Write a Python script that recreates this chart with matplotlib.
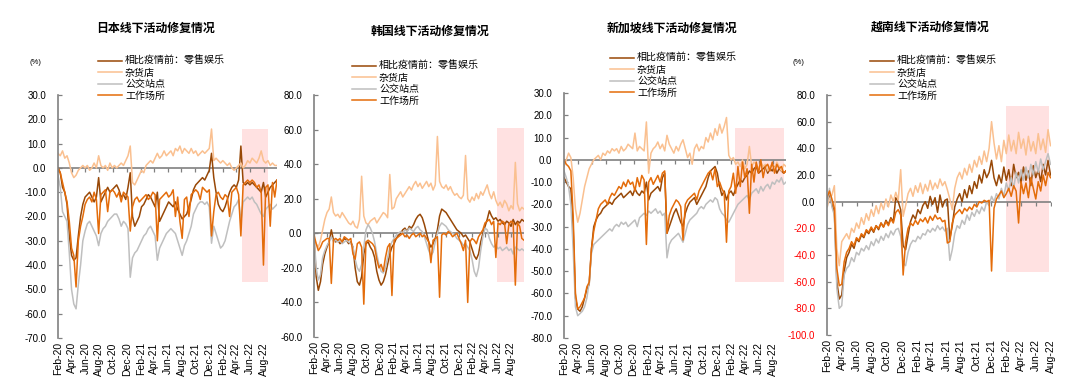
import numpy as np
import pandas as pd
import matplotlib
matplotlib.use('Agg')
import matplotlib.pyplot as plt
import matplotlib.dates as mdates
from matplotlib.patches import Rectangle

plt.rcParams['font.family'] = ['Liberation Sans', 'Noto Sans CJK SC']

# legend labels and colours (order: retail, grocery, transit, workplace)
labels = ['相比疫情前：零售娱乐', '杂货店', '公交站点', '工作场所']
colors = ['#984807', '#FAC090', '#BFBFBF', '#E46C0A']

# values, one point every 10 days from 2020-02-15
# ---- Japan ----
jp_retail = [0, -2, -8, -10, -15, -28, -36, -38, -37, -28,
             -20, -15, -12, -11, -10, -12, -14, -12, -4, -14,
             -12, -10, -8, -10, -9, -8, -7, -9, -12, -11,
             -13, -8, -2, -20, -24, -22, -20, -16, -15, -13,
             -11, -12, -14, -16, -10, -22, -20, -18, -16, -14,
             -15, -16, -14, -17, -19, -21, -20, -19, -16, -13,
             -9, -7, -6, -5, -4, -5, -3, -1, 6, -4,
             -10, -15, -17, -18, -16, -13, -10, -8, -7, -8,
             -5, 9, -6, -7, -6, -7, -6, -7, -8, -9,
             -10, -6, -12, -10, -8, -7, -6, -5]
jp_grocery = [6, 5, 7, 4, 5, 2, -2, -4, -3, -1,
              0, 1, 0, 1, -1, 0, 2, 0, 5, 1,
              0, 1, -1, 2, 0, 1, 0, 1, 2, 1,
              3, 5, 9, -6, -7, -5, -3, -1, -2, 1,
              2, 3, 2, 4, 6, 4, 5, 7, 5, 6,
              7, 5, 8, 7, 9, 6, 8, 7, 6, 8,
              6, 7, 5, 6, 7, 6, 7, 8, 16, 3,
              4, 3, 2, 3, 2, 1, 2, 0, -1, 0,
              1, 2, 0, 1, 3, 2, 4, 3, 2, 4,
              7, 3, 2, 3, 1, 2, 1, 1]
jp_transit = [-3, -8, -18, -20, -22, -35, -50, -56, -58, -48,
              -40, -30, -26, -23, -22, -24, -26, -28, -32, -27,
              -25, -24, -22, -21, -20, -19, -19, -21, -24, -22,
              -23, -25, -45, -37, -35, -34, -32, -30, -28, -27,
              -25, -24, -26, -28, -38, -33, -31, -29, -27, -26,
              -25, -26, -27, -30, -33, -36, -32, -30, -27, -24,
              -19, -17, -15, -14, -14, -15, -14, -16, -31, -24,
              -27, -30, -33, -32, -30, -26, -22, -19, -16, -15,
              -13, -22, -14, -13, -12, -13, -12, -14, -15, -17,
              -19, -20, -17, -16, -15, -17, -16, -15]
jp_work = [0, -2, -6, -10, -14, -22, -33, -36, -49, -30,
           -24, -20, -15, -13, -12, -14, -10, -13, -27, -11,
           -10, -9, -18, -10, -9, -10, -12, -10, -14, -10,
           -11, -12, -26, -16, -13, -12, -14, -13, -12, -11,
           -13, -12, -10, -11, -30, -13, -12, -11, -10, -12,
           -11, -9, -20, -12, -22, -29, -13, -12, -20, -11,
           -10, -9, -10, -13, -8, -9, -10, -9, -28, -18,
           -11, -10, -12, -13, -11, -12, -20, -10, -9, -8,
           -11, -28, -7, -6, -5, -6, -5, -6, -8, -7,
           -10, -40, -8, -7, -24, -6, -12, -5]

# ---- Korea ----
kr_retail = [-2, -25, -33, -28, -18, -12, -8, -5, 2, -4,
             -5, -4, -6, -5, -3, -4, -6, -5, -8, -20,
             -28, -30, -25, -12, -6, -5, -8, -10, -14, -22,
             -27, -30, -28, -24, -18, -12, -8, -6, -3, -1,
             0, 2, 3, 1, 4, 3, 5, 8, 10, 11,
             9, 5, 0, -5, -8, -6, -3, 2, 10, 14,
             13, 12, 10, 8, 6, 4, 2, 1, 0, -2,
             -1, -3, -5, -9, -13, -15, -12, -5, 0, 4,
             8, 13, 10, 8, 9, 7, 8, 6, 5, 7,
             6, 4, 8, 5, 7, 6, 8, 7]
kr_grocery = [-3, -6, -8, -4, 2, 8, 12, 14, 21, 12,
              10, 11, 9, 12, 10, 8, 6, 5, 7, 4,
              3, 8, 33, 10, 6, 5, 7, 8, 9, 6,
              8, 10, 12, 11, 9, 34, 14, 15, 20, 22,
              24, 21, 23, 25, 27, 25, 28, 30, 27, 29,
              26, 28, 30, 27, 29, 25, 28, 56, 30, 27,
              26, 28, 25, 27, 24, 22, 23, 21, 20, 22,
              45, 20, 18, 21, 19, 23, 20, 24, 22, 25,
              28, 23, 20, 24, 19, 16, 18, 15, 19, 17,
              13, 16, 14, 41, 17, 13, 15, 14]
kr_transit = [-1, -20, -27, -24, -14, -10, -7, -5, -2, -5,
              -4, -5, -4, -6, -5, -4, -5, -6, -8, -15,
              -20, -22, -18, -8, 2, 5, 3, 0, -5, -12,
              -18, -22, -23, -20, -14, -8, -5, -3, -1, 0,
              1, 0, 2, 1, 3, 2, 1, 3, 4, 2,
              1, -2, -6, -10, -13, -11, -5, 0, 4, 6,
              5, 4, 2, 1, 0, -1, -3, -4, -5, -7,
              -6, -8, -10, -15, -22, -25, -20, -10, -2, 3,
              2, -3, -6, -8, -7, -9, -8, -10, -9, -8,
              -10, -9, -12, -8, -9, -10, -9, -10]
kr_work = [-1, -6, -10, -8, -5, -4, -3, -3, -29, -4,
           -3, -4, -3, -5, -2, -3, -4, -3, -12, -15,
           -6, -5, -8, -41, -5, -4, -5, -6, -8, -15,
           -20, -18, -22, -14, -8, -6, -36, -4, -3, -2,
           -1, 0, -2, -1, -3, -1, 0, -2, -1, 0,
           -2, -1, -3, -5, -17, -4, -3, -2, -37, -1,
           0, -1, 1, 0, -2, -1, 0, -3, -6, -10,
           -4, -40, -5, -3, -4, -6, -2, 0, 2, 6,
           7, 8, 5, 7, -14, 6, 5, 7, 6, -6,
           5, 7, 6, -30, 6, 4, -3, -4]

# ---- Singapore ----
sg_retail = [-8, -10, -12, -13, -30, -62, -67, -68, -66, -62,
             -58, -56, -40, -30, -27, -25, -24, -22, -21, -20,
             -19, -20, -18, -17, -16, -15, -17, -16, -15, -14,
             -16, -13, -15, -16, -14, -15, -10, -18, -15, -14,
             -13, -12, -14, -8, -6, -33, -30, -27, -24, -22,
             -25, -28, -30, -24, -21, -19, -18, -17, -20, -18,
             -16, -14, -12, -8, -5, -4, -3, -6, -12, -16,
             -14, -18, -15, -14, -16, -13, -11, -9, -10, -8,
             -7, -5, -6, -4, -3, -6, -5, -4, -3, -6,
             -4, -5, -3, -6, -4, -5, -6, -5]
sg_grocery = [-3, 0, 3, 1, -8, -22, -28, -24, -18, -12,
              -8, -4, -2, 0, 1, 2, 0, 3, 2, 4,
              3, 5, 4, 5, 3, 6, 4, 5, 7, 6,
              5, 12, 4, 6, 5, 4, 17, -6, 3, 5,
              6, 8, 5, 7, 4, 11, 7, 5, 3, 6,
              4, 7, 9, 5, 1, 3, -2, 5, 7, 4,
              6, 5, 10, 8, 12, 9, 14, 11, 16, 12,
              15, 19, 2, 0, 1, -2, -1, -3, 0, -4,
              -2, 6, -3, -1, -2, -4, -1, -3, -2, -5,
              -3, -2, -4, -1, -3, -5, -2, -3]
sg_transit = [-5, -8, -12, -20, -40, -66, -70, -69, -68, -66,
              -62, -55, -42, -38, -37, -36, -35, -34, -33, -32,
              -31, -32, -30, -29, -30, -28, -29, -28, -30, -29,
              -28, -27, -30, -26, -25, -24, -25, -23, -24, -23,
              -22, -24, -23, -25, -24, -44, -38, -36, -35, -34,
              -33, -35, -37, -33, -29, -27, -26, -25, -24, -22,
              -21, -22, -20, -19, -18, -19, -17, -18, -22, -24,
              -25, -27, -28, -26, -24, -22, -20, -19, -18, -17,
              -16, -18, -15, -14, -13, -15, -12, -14, -12, -11,
              -13, -10, -11, -9, -10, -8, -11, -10]
sg_work = [0, -2, -3, -5, -25, -60, -67, -66, -64, -62,
           -57, -55, -40, -32, -27, -22, -20, -19, -18, -20,
           -17, -15, -16, -14, -12, -13, -10, -12, -9, -11,
           -10, -14, -8, -12, -7, -9, -38, -10, -8, -11,
           -9, -7, -10, -6, -5, -33, -25, -22, -20, -18,
           -19, -21, -36, -20, -18, -17, -16, -15, -18, -14,
           -12, -10, -8, -6, -5, -9, -4, -12, -10, -13,
           -15, -37, -14, -12, -6, -15, -3, -12, -1, -8,
           -4, -24, -2, -10, -1, -6, 0, -8, -3, -2,
           -5, -1, -6, -2, -4, -3, -6, -5]

# ---- Vietnam ----
vn_retail = [0, 5, -2, -8, -60, -73, -70, -52, -42, -38,
             -32, -35, -28, -30, -25, -27, -22, -24, -20, -23,
             -18, -21, -16, -19, -14, -17, -12, -15, 3, 0,
             -6, -33, -36, -25, -15, -10, -13, -6, -9, -3,
             0, -5, 4, -2, 3, -8, 5, -4, 1, 2,
             -28, -18, -4, 2, 6, 0, 9, 3, 12, 6,
             15, 10, 20, 14, 24, 18, 22, 31, 18, 12,
             20, 14, 26, 16, 24, 12, 28, 18, 22, 14,
             26, 16, 23, 12, 27, 18, 24, 15, 28, 20,
             31, 20]
vn_grocery = [-4, 2, 5, 12, -35, -48, -30, -27, -24, -28,
              -20, -23, -16, -20, -12, -17, -9, -14, -6, -11,
              -3, -9, -1, -6, 2, -4, 5, 0, 7, 1,
              24, -11, -3, 6, 10, 4, 12, 7, 14, 6,
              13, 8, 16, 9, 14, 10, 17, 12, 15, 9,
              2, -6, 10, 18, 22, 17, 25, 20, 28, 22,
              31, 26, 34, 28, 38, 30, 40, 60, 44, 32,
              42, 30, 46, 36, 50, 38, 46, 36, 52, 40,
              47, 35, 49, 38, 45, 36, 51, 39, 47, 37,
              54, 42]
vn_transit = [-3, 10, -4, -10, -65, -80, -78, -55, -50, -48,
              -42, -45, -38, -40, -35, -37, -33, -36, -30, -33,
              -28, -31, -26, -29, -24, -27, -22, -25, -21, -20,
              -26, -46, -48, -38, -32, -29, -30, -26, -28, -24,
              -25, -21, -23, -20, -22, -18, -21, -19, -22, -20,
              -44, -36, -24, -18, -20, -14, -17, -10, -14, -8,
              -11, -6, -9, -4, -7, 0, -3, 4, 0, 6,
              2, 10, 4, 14, 8, 18, 10, 22, 14, 24,
              16, 26, 18, 28, 20, 30, 22, 32, 24, 30,
              36, 28]
vn_work = [3, 8, 2, -5, -50, -63, -62, -45, -38, -35,
           -30, -33, -27, -29, -24, -26, -21, -23, -19, -22,
           -18, -20, -16, -19, -15, -18, -13, -16, -8, -6,
           -10, -55, -30, -20, -16, -18, -14, -17, -13, -15,
           -12, -16, -11, -14, -10, -13, -12, -15, -14, -31,
           -30, -16, -10, -8, -6, -9, -5, -7, -4, -6,
           -2, -4, 0, -1, 1, 0, 1, -52, -5, 2,
           5, 8, 3, 6, 10, 4, 12, 8, -16, 15,
           6, 14, 3, 18, 10, 2, 15, 8, 20, 12,
           22, 18]

start = pd.Timestamp('2020-02-15')
tick_dates = [start + pd.DateOffset(months=2 * k) for k in range(16)]
tick_labels = [d.strftime('%b-%y') for d in tick_dates]

W, H = 1080, 384
fig = plt.figure(figsize=(W / 100, H / 100), dpi=100)

# panel layout in pixels: left, right, top, bottom
panels = [
    dict(title='日本线下活动修复情况', data=[jp_retail, jp_grocery, jp_transit, jp_work],
         box=(58, 277, 95, 338), ylim=(-70, 30), step=10,
         shade=('2022-05-09', '2022-09-01', -47, 16),
         title_xy=(155, 29), leg_xy=(98, 56), pct_xy=(35, 62)),
    dict(title='韩国线下活动修复情况', data=[kr_retail, kr_grocery, kr_transit, kr_work],
         box=(314, 524, 95, 337), ylim=(-60, 80), step=20,
         shade=('2022-06-11', '2022-10-10', -28, 61),
         title_xy=(430, 32), leg_xy=(352, 61), pct_xy=None),
    dict(title='新加坡线下活动修复情况', data=[sg_retail, sg_grocery, sg_transit, sg_work],
         box=(564, 786, 93, 338), ylim=(-80, 30), step=10,
         shade=('2022-03-03', '2022-10-03', -55, 14.3),
         title_xy=(672, 29), leg_xy=(610, 53), pct_xy=None),
    dict(title='越南线下活动修复情况', data=[vn_retail, vn_grocery, vn_transit, vn_work],
         box=(827, 1051, 95, 335), ylim=(-100, 80), step=20,
         shade=('2022-02-12', '2022-08-05', -53, 71.7),
         title_xy=(930, 28), leg_xy=(870, 56), pct_xy=(798, 62), red_neg=True),
]

grey = '#808080'
for p in panels:
    l, r, t, b = p['box']
    ax = fig.add_axes([l / W, 1 - b / H, (r - l) / W, (b - t) / H])
    n = len(p['data'][0])
    dates = pd.date_range(start, periods=n, freq='10D')

    x0, x1, y0, y1 = p['shade']
    d0 = mdates.date2num(pd.Timestamp(x0))
    d1 = mdates.date2num(pd.Timestamp(x1))
    ax.add_patch(Rectangle((d0, y0), d1 - d0, y1 - y0, fc='#FFE1E1', ec='none', zorder=0))

    handles = []
    for vals, c in zip(p['data'], colors):
        h, = ax.plot(dates, vals, color=c, lw=1.1, zorder=2)
        handles.append(h)

    ax.axhline(0, color=grey, lw=1.2, zorder=1.5)
    ax.plot(tick_dates, [0] * len(tick_dates), ls='none', marker=3, ms=3,
            mew=0.9, color=grey, zorder=1.5)

    xend = max(dates[-1], tick_dates[-1])
    ax.set_xlim(dates[0], xend)
    ax.set_xticks(tick_dates)
    ax.set_xticklabels(tick_labels, rotation=90, fontsize=7.5)
    ax.tick_params(axis='x', length=0, pad=3)

    lo, hi = p['ylim']
    ax.set_ylim(lo, hi)
    yt = np.arange(lo, hi + p['step'] / 2, p['step'])
    ax.set_yticks(yt)
    ax.set_yticklabels([f'{v:.1f}' for v in yt])
    ax.tick_params(axis='y', direction='in', length=3, color=grey, width=0.9,
                   labelsize=7, pad=8.5)
    if p.get('red_neg'):
        for lbl, v in zip(ax.get_yticklabels(), yt):
            if v < 0:
                lbl.set_color('#FF0000')

    for s in ['top', 'right', 'bottom']:
        ax.spines[s].set_visible(False)
    ax.spines['left'].set_color(grey)
    ax.spines['left'].set_linewidth(1.2)
    ax.set_facecolor('none')

    tx, ty = p['title_xy']
    fig.text(tx / W, 1 - ty / H, p['title'], ha='center', va='center',
             fontsize=8.6, fontweight='bold')

    lx, ly = p['leg_xy']
    ax.legend(handles, labels, loc='upper left', bbox_to_anchor=(lx / W, 1 - ly / H),
              bbox_transform=fig.transFigure, frameon=False, fontsize=7.2,
              handlelength=2.4, handletextpad=0.3, labelspacing=0.15,
              borderpad=0, borderaxespad=0)

    if p['pct_xy']:
        px, py = p['pct_xy']
        fig.text(px / W, 1 - py / H, '(%)', ha='center', va='center', fontsize=5.5)

fig.savefig('out.png', dpi=100)
